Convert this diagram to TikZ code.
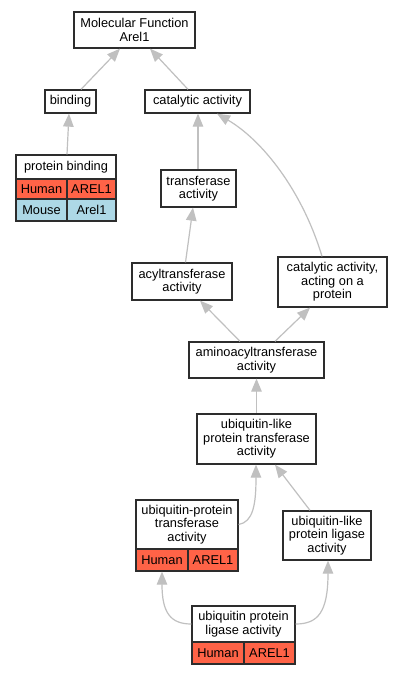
\documentclass[tikz,border=0pt]{standalone}
\usepackage{fontspec}
\setmainfont{Liberation Sans}
\usetikzlibrary{arrows.meta}
\definecolor{edgec}{RGB}{192,192,192}
\definecolor{human}{RGB}{255,99,71}
\definecolor{mouse}{RGB}{173,216,230}
\definecolor{boxc}{RGB}{45,45,45}
\begin{document}
\begin{tikzpicture}[x=1pt,y=-1pt,
  box/.style={draw=boxc, line width=1.3pt, fill=white, inner sep=0pt, align=center,
    font=\fontsize{12.8}{13.5}\selectfont},
  hcell/.style={box, fill=human},
  mcell/.style={box, fill=mouse},
  edge/.style={draw=edgec, line width=1.2pt, {Triangle[length=13pt,width=10.5pt,fill=edgec,color=edgec]}-}]
\useasboundingbox (0,0) rectangle (401,675);
\fill[white] (0,0) rectangle (401,675);
% nodes
\node[box, minimum width=121pt, minimum height=36pt] (mf) at (134.5,30) {Molecular Function\\Arel1};
\node[box, minimum width=51pt, minimum height=23pt] (bind) at (70.5,101.5) {binding};
\node[box, minimum width=105pt, minimum height=23pt] (cat) at (197.5,101.5) {catalytic activity};
\node[box, minimum width=100pt, minimum height=24pt] (pb) at (66,167) {protein binding};
\node[hcell, minimum width=51pt, minimum height=20pt] (pbhs) at (41.5,189) {Human};
\node[hcell, minimum width=49pt, minimum height=20pt] (pbhg) at (91.5,189) {AREL1};
\node[mcell, minimum width=51pt, minimum height=22pt] (pbms) at (41.5,210) {Mouse};
\node[mcell, minimum width=49pt, minimum height=22pt] (pbmg) at (91.5,210) {Arel1};
\node[box, minimum width=75pt, minimum height=37pt] (trans) at (198.5,188.5) {transferase\\activity};
\node[box, minimum width=100pt, minimum height=37pt] (acyl) at (182,281.5) {acyltransferase\\activity};
\node[box, minimum width=109pt, minimum height=50pt] (catp) at (332.5,282) {catalytic activity,\\acting on a\\protein};
\node[box, minimum width=135pt, minimum height=36pt] (amino) at (256.5,360) {aminoacyltransferase\\activity};
\node[box, minimum width=119pt, minimum height=50pt] (ult) at (256.5,439) {ubiquitin-like\\protein transferase\\activity};
\node[box, minimum width=102pt, minimum height=49pt] (upt) at (187,524.5) {ubiquitin-protein\\transferase\\activity};
\node[hcell, minimum width=52pt, minimum height=22pt] (upths) at (162,560) {Human};
\node[hcell, minimum width=50pt, minimum height=22pt] (induptg) at (213,560) {AREL1};
\node[box, minimum width=88pt, minimum height=49pt] (ull) at (327,535.5) {ubiquitin-like\\protein ligase\\activity};
\node[box, minimum width=103pt, minimum height=36pt] (upl) at (243.5,624) {ubiquitin protein\\ligase activity};
\node[hcell, minimum width=52pt, minimum height=22pt] (uplhs) at (218,653) {Human};
\node[hcell, minimum width=51pt, minimum height=22pt] (uplhg) at (269.5,653) {AREL1};
% edges
\draw[edge] ([xshift=-14.5pt]mf.south) -- ([xshift=10.5pt]bind.north);
\draw[edge] ([xshift=15.5pt]mf.south) -- ([xshift=-9.5pt]cat.north);
\draw[edge] ([xshift=-1.5pt]bind.south) -- ([xshift=1pt]pb.north);
\draw[edge] ([xshift=0.5pt]cat.south) -- ([xshift=-0.5pt]trans.north);
\draw[edge] ([xshift=19.5pt]cat.south) .. controls (262,140) and (302,190) .. ([xshift=-10.5pt]catp.north);
\draw[edge] ([xshift=-5.5pt]trans.south) -- ([xshift=3.5pt]acyl.north);
\draw[edge] ([xshift=18pt]acyl.south) -- ([xshift=-16.5pt]amino.north);
\draw[edge] ([xshift=-22.5pt]catp.south) -- ([xshift=18.5pt]amino.north);
\draw[edge] (amino.south) -- (ult.north);
\draw[edge] ([xshift=-0.5pt]ult.south) .. controls (256,505) and (253,522) .. (upt.east);
\draw[edge] ([xshift=18.5pt]ult.south) -- ([xshift=-17pt]ull.north);
\draw[edge] (upths.south) .. controls (162,612) and (170,624) .. (upl.west);
\draw[edge] ([xshift=1pt]ull.south) .. controls (328,612) and (318,624) .. (upl.east);
\end{tikzpicture}
\end{document}
